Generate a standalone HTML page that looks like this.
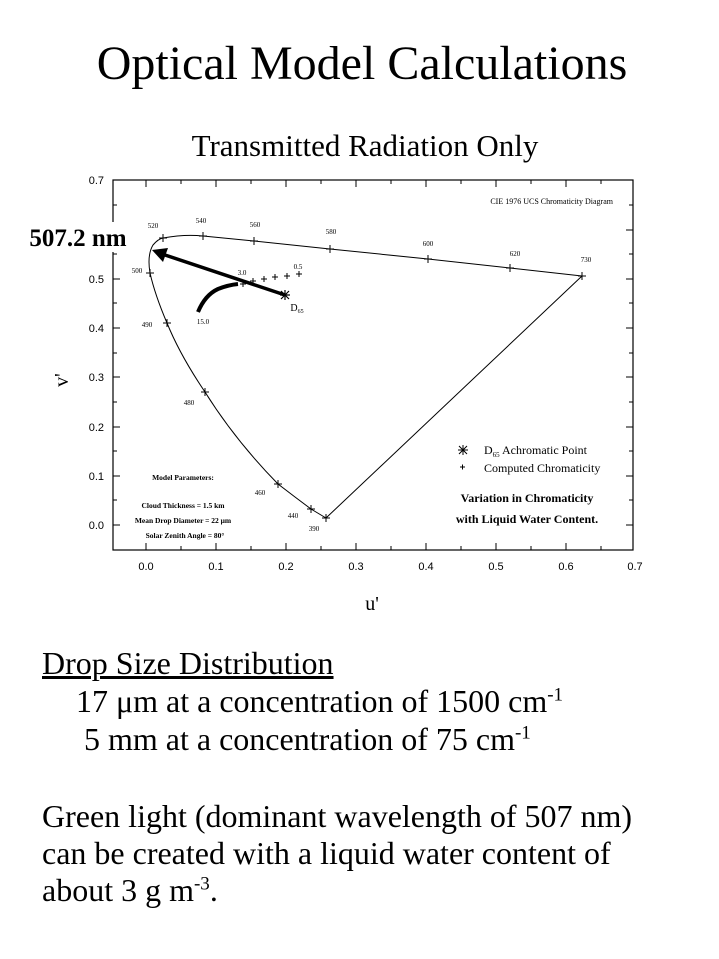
<!DOCTYPE html>
<html><head><style>
body{margin:0;background:#fff;width:719px;height:959px;overflow:hidden;font-family:"Liberation Serif",serif;}
.t{position:absolute;white-space:nowrap;color:#000}
sup{font-size:19px;line-height:0}
</style></head><body>
<div class="t" style="left:0;width:724px;text-align:center;top:36px;font-size:48px;">Optical Model Calculations</div>
<div class="t" style="left:0;width:730px;text-align:center;top:128px;font-size:31px;">Transmitted Radiation Only</div>
<svg width="719" height="959" style="position:absolute;left:0;top:0" font-family="Liberation Sans, sans-serif">
<rect x="113" y="180" width="520" height="370" fill="none" stroke="#000" stroke-width="1.2"/>
<g stroke="#000" stroke-width="1">
<path d="M146 550v-7M216 550v-7M286 550v-7M356 550v-7M426 550v-7M496 550v-7M566 550v-7
M181 550v-4M251 550v-4M321 550v-4M391 550v-4M461 550v-4M531 550v-4M601 550v-4
M146 180v7M216 180v7M286 180v7M356 180v7M426 180v7M496 180v7M566 180v7
M181 180v4M251 180v4M321 180v4M391 180v4M461 180v4M531 180v4M601 180v4"/>
<path d="M113 525h7M113 476h7M113 427h7M113 377h7M113 328h7M113 279h7M113 230h7
M113 500h4M113 451h4M113 402h4M113 353h4M113 303h4M113 254h4M113 205h4
M633 525h-7M633 476h-7M633 427h-7M633 377h-7M633 328h-7M633 279h-7M633 230h-7
M633 500h-4M633 451h-4M633 402h-4M633 353h-4M633 303h-4M633 254h-4M633 205h-4"/>
</g>
<g font-size="11" text-anchor="middle">
<text x="146" y="570">0.0</text><text x="216" y="570">0.1</text><text x="286" y="570">0.2</text><text x="356" y="570">0.3</text><text x="426" y="570">0.4</text><text x="496" y="570">0.5</text><text x="566" y="570">0.6</text><text x="635" y="570">0.7</text>
</g>
<g font-size="11" text-anchor="end">
<text x="104" y="529">0.0</text><text x="104" y="480">0.1</text><text x="104" y="431">0.2</text><text x="104" y="381">0.3</text><text x="104" y="332">0.4</text><text x="104" y="283">0.5</text><text x="104" y="184">0.7</text>
</g>
<text x="372" y="610" font-family="Liberation Serif,serif" font-size="20" text-anchor="middle">u'</text>
<text x="68" y="380" font-family="Liberation Serif,serif" font-size="20" text-anchor="middle" transform="rotate(-90 68 380)">v'</text>
<path d="M326 518 L311 509 L295 497 L278 484 Q235 440 205 392 Q180 355 167 323 Q155 295 150 273 Q147 255 153 245 Q158 239 163 238 Q185 234 203 236 L254 241 L330 249 L428 259 L510 268 L582 276 Z" fill="none" stroke="#000" stroke-width="1"/>
<g stroke="#000" stroke-width="1" fill="none">
<path d="M322 518h8M326 514v8 M307 509h8M311 505v8 M274 484h8M278 480v8 M201 392h8M205 388v8 M163 323h8M167 319v8 M146 273h8M150 269v8 M159 238h8M163 234v8 M199 236h8M203 232v8 M250 241h8M254 237v8 M326 249h8M330 245v8 M424 259h8M428 255v8 M506 268h8M510 264v8 M578 276h8M582 272v8"/>
<path d="M296 274h6M299 271v6 M284 276h6M287 273v6 M272 277h6M275 274v6 M261 279h6M264 276v6 M250 281h6M253 278v6 M240 284h6M243 281v6"/>
</g>
<g font-size="7" font-family="Liberation Serif,serif" text-anchor="middle">
<text x="153" y="228">520</text><text x="201" y="223">540</text><text x="255" y="227">560</text><text x="331" y="234">580</text><text x="428" y="246">600</text><text x="515" y="256">620</text><text x="586" y="262">730</text>
<text x="137" y="273">500</text><text x="147" y="327">490</text><text x="189" y="405">480</text><text x="260" y="495">460</text><text x="293" y="518">440</text><text x="314" y="531">390</text>
<text x="242" y="275">3.0</text><text x="298" y="269">0.5</text><text x="203" y="324">15.0</text>
<text x="297" y="311" font-size="10">D<tspan font-size="6" dy="2">65</tspan></text>
</g>
<path d="M198 312 Q205 295 218 289 Q228 285 238 284" fill="none" stroke="#000" stroke-width="4"/>
<line x1="285" y1="295" x2="165" y2="255" stroke="#000" stroke-width="3.5"/>
<polygon points="152,250 168,248 163,262" fill="#000"/>
<g stroke="#000" stroke-width="1.2"><path d="M280 295h10M285 290v10M281 291l8 8M289 291l-8 8"/></g>
<rect x="25" y="222" width="106" height="30" fill="#fff"/>
<text x="78" y="246" font-family="Liberation Serif,serif" font-size="25" font-weight="bold" text-anchor="middle">507.2 nm</text>
<text x="613" y="204" font-family="Liberation Serif,serif" font-size="8" text-anchor="end">CIE 1976 UCS Chromaticity Diagram</text>
<g stroke="#000" stroke-width="1"><path d="M458 450h10M463 445v10M459 446l8 8M467 446l-8 8 M460 467h5M462.5 464.5v5"/></g>
<g font-family="Liberation Serif,serif" font-size="12">
<text x="484" y="454">D<tspan font-size="7" dy="3">65</tspan><tspan dy="-3"> Achromatic Point</tspan></text>
<text x="484" y="472">Computed Chromaticity</text>
</g>
<g font-family="Liberation Serif,serif" font-size="12" font-weight="bold" text-anchor="middle">
<text x="527" y="502">Variation in Chromaticity</text><text x="527" y="523">with Liquid Water Content.</text>
</g>
<g font-family="Liberation Serif,serif" font-size="7.5" font-weight="bold" text-anchor="middle">
<text x="183" y="480">Model Parameters:</text>
<text x="183" y="508">Cloud Thickness = 1.5 km</text>
<text x="183" y="523">Mean Drop Diameter = 22 μm</text>
<text x="185" y="538">Solar Zenith Angle = 80°</text>
</g>
</svg>
<div class="t" style="left:42px;top:645px;font-size:32px;text-decoration:underline;">Drop Size Distribution</div>
<div class="t" style="left:76px;top:683px;font-size:32px;">17 μm at a concentration of 1500 cm<sup>-1</sup></div>
<div class="t" style="left:84px;top:721px;font-size:32px;">5 mm at a concentration of 75 cm<sup>-1</sup></div>
<div class="t" style="left:42px;top:798px;font-size:32px;line-height:37px;">Green light (dominant wavelength of 507 nm)<br>can be created with a liquid water content of<br>about 3 g m<sup>-3</sup>.</div>
</body></html>
